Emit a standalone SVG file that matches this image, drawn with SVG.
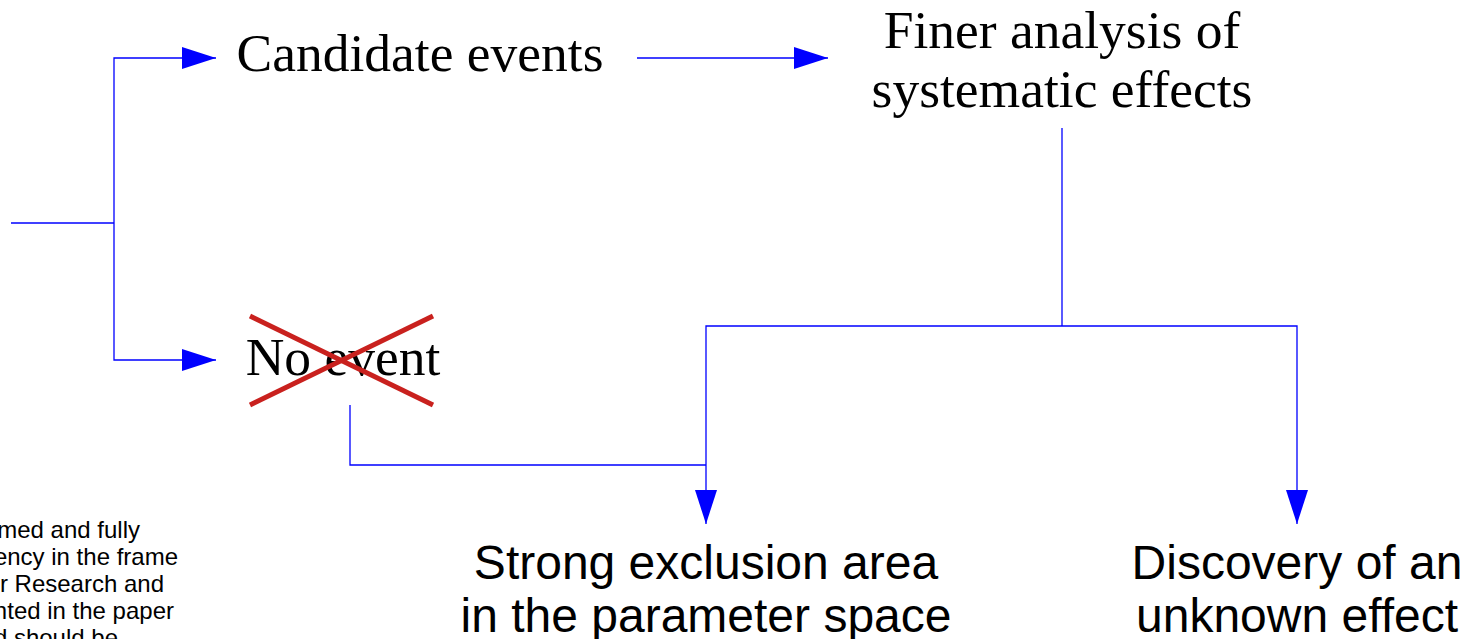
<svg xmlns="http://www.w3.org/2000/svg" width="1466" height="639" viewBox="0 0 1466 639">
  <style>
    .serif { font-family: "Liberation Serif", "Times New Roman", serif; font-size: 53.5px; fill: #000; }
    .sans { font-family: "Liberation Sans", Arial, sans-serif; font-size: 48px; fill: #000; }
    .note { font-family: "Liberation Sans", Arial, sans-serif; font-size: 24px; fill: #000; }
    .wire { fill: none; stroke: #0000ff; stroke-width: 1.3; }
    .cross { stroke: #c9211e; stroke-width: 5; stroke-linecap: butt; }
  </style>
  <defs>
    <marker id="head" viewBox="0 0 34 22" refX="34" refY="11" markerWidth="34" markerHeight="22" markerUnits="userSpaceOnUse" orient="auto">
      <path d="M0,0 L34,11 L0,22 Z" fill="#0000ff"/>
    </marker>
  </defs>

  <g id="connectors">
    <path class="wire" d="M11,223 H114"/>
    <path class="wire" d="M114,223 V58 H216" marker-end="url(#head)"/>
    <path class="wire" d="M114,223 V360 H216" marker-end="url(#head)"/>
    <path class="wire" d="M637,58 H828" marker-end="url(#head)"/>
    <path class="wire" d="M1062,128 V326"/>
    <path class="wire" d="M1062,326 H706 V524" marker-end="url(#head)"/>
    <path class="wire" d="M1062,326 H1297 V524" marker-end="url(#head)"/>
    <path class="wire" d="M350,405 V465 H706"/>
  </g>

  <g id="candidate-events">
    <text class="serif" x="420" y="71" text-anchor="middle">Candidate events</text>
  </g>

  <g id="finer-analysis">
    <text class="serif" x="1062" y="48" text-anchor="middle">Finer analysis of</text>
    <text class="serif" x="1062" y="107" text-anchor="middle">systematic effects</text>
  </g>

  <g id="no-event">
    <text class="serif" x="343" y="375" text-anchor="middle">No event</text>
    <line class="cross" x1="250" y1="316" x2="433" y2="405"/>
    <line class="cross" x1="250" y1="405" x2="433" y2="316"/>
  </g>

  <g id="exclusion-area">
    <text class="sans" x="706" y="579" text-anchor="middle">Strong exclusion area</text>
    <text class="sans" x="706" y="632" text-anchor="middle">in the parameter space</text>
  </g>

  <g id="discovery">
    <text class="sans" x="1297" y="579" text-anchor="middle">Discovery of an</text>
    <text class="sans" x="1297" y="632" text-anchor="middle">unknown effect</text>
  </g>

  <g id="note">
    <text class="note" x="140" y="538" text-anchor="end">med and fully</text>
    <text class="note" x="178" y="565" text-anchor="end">ency in the frame</text>
    <text class="note" x="164" y="592" text-anchor="end">r Research and</text>
    <text class="note" x="174" y="619" text-anchor="end">nted in the paper</text>
    <text class="note" x="118" y="646" text-anchor="end">d should be</text>
  </g>
</svg>
